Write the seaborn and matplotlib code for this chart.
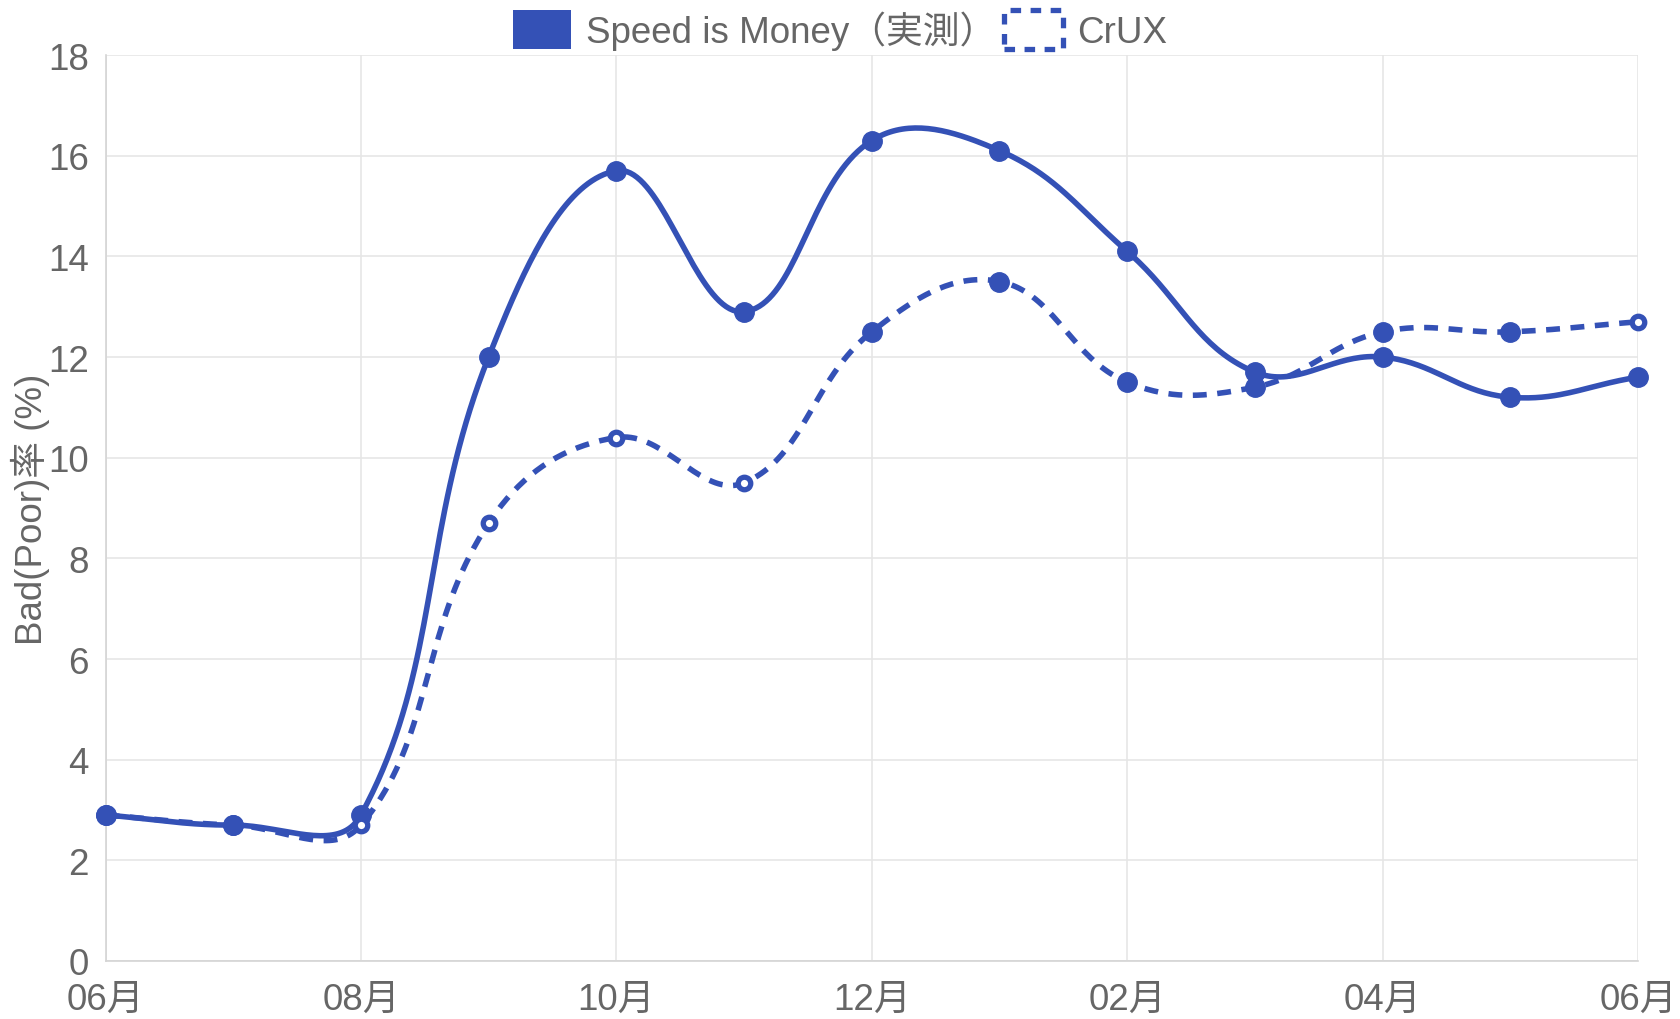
import numpy as np
import pandas as pd
import matplotlib
matplotlib.use("Agg")
import matplotlib.pyplot as plt
import matplotlib.patches as mpatches
import seaborn as sns

# data (monthly, June -> June)
months = ["06月", "07月", "08月", "09月", "10月", "11月", "12月",
          "01月", "02月", "03月", "04月", "05月", "06月"]
speed_is_money = [2.9, 2.7, 2.9, 12.0, 15.7, 12.9, 16.3, 16.1, 14.1, 11.7, 12.0, 11.2, 11.6]
crux = [2.9, 2.7, 2.7, 8.7, 10.4, 9.5, 12.5, 13.5, 11.5, 11.4, 12.5, 12.5, 12.7]
crux_hollow = [False, False, True, True, True, True, False, False, False, False, False, False, True]
yticks = [0, 2, 4, 6, 8, 10, 12, 14, 16, 18]

BLUE = "#3451b6"
GREY = "#666666"
FS = 26.5

sns.set_theme(style="white")
plt.rcParams["font.family"] = ["Liberation Sans", "Noto Sans CJK JP", "DejaVu Sans"]


def spline_curve(vals, tension=0.4, sx=127.7, sy=50.33, n=40):
    # chart.js style cubic bezier through the points (computed in pixel space)
    x = np.arange(len(vals)) * sx
    y = np.array(vals, dtype=float) * sy
    pts = np.column_stack([x, y])
    cprev = pts.copy()
    cnext = pts.copy()
    for i in range(len(pts)):
        p0 = pts[i - 1] if i > 0 else pts[i]
        p1 = pts[i]
        p2 = pts[i + 1] if i < len(pts) - 1 else pts[i]
        d01 = np.hypot(*(p1 - p0))
        d12 = np.hypot(*(p2 - p1))
        tot = d01 + d12
        s01 = d01 / tot if tot else 0
        s12 = d12 / tot if tot else 0
        cprev[i] = p1 - tension * s01 * (p2 - p0)
        cnext[i] = p1 + tension * s12 * (p2 - p0)
    out = []
    t = np.linspace(0, 1, n)[:, None]
    for i in range(len(pts) - 1):
        a, b, c, d = pts[i], cnext[i], cprev[i + 1], pts[i + 1]
        seg = (1 - t) ** 3 * a + 3 * (1 - t) ** 2 * t * b + 3 * (1 - t) * t ** 2 * c + t ** 3 * d
        out.append(seg if i == 0 else seg[1:])
    out = np.vstack(out)
    return out[:, 0] / sx, out[:, 1] / sy


fig = plt.figure(figsize=(16.8, 10.2), dpi=100)
ax = fig.add_axes([105.5 / 1680, 1 - 962 / 1020, (1638 - 105.5) / 1680, (962 - 56) / 1020])

sx_, sy_ = spline_curve(speed_is_money)
cx_, cy_ = spline_curve(crux)
curve = pd.concat([
    pd.DataFrame({"x": sx_, "y": sy_, "series": "Speed is Money（実測）"}),
    pd.DataFrame({"x": cx_, "y": cy_, "series": "CrUX"}),
])

sns.lineplot(data=curve[curve.series == "CrUX"], x="x", y="y", ax=ax, sort=False,
             estimator=None, color=BLUE, lw=4.0, legend=False, zorder=3)
ax.lines[-1].set_dashes((2.5, 1.9))
sns.lineplot(data=curve[curve.series != "CrUX"], x="x", y="y", ax=ax, sort=False,
             estimator=None, color=BLUE, lw=4.0, legend=False, zorder=3)
for ln in ax.lines:
    ln.set_dash_capstyle("butt")

idx = np.arange(len(months))
pts = pd.DataFrame({"x": idx, "sim": speed_is_money, "crux": crux, "hollow": crux_hollow})
ax.plot(pts.x, pts.sim, "o", ms=14, color=BLUE, zorder=4, clip_on=False)
filled = pts[~pts.hollow]
hollow = pts[pts.hollow]
ax.plot(filled.x, filled.crux, "o", ms=14, color=BLUE, zorder=4, clip_on=False)
ax.plot(hollow.x, hollow.crux, "o", ms=9, mfc="white", mec=BLUE, mew=3.8, zorder=5,
        clip_on=False)

ax.set_xlim(0, len(months) - 1)
ax.set_ylim(0, 18)
ax.set_yticks(yticks)
ax.set_xticks(idx[::2])
ax.set_xticklabels(months[::2])
ax.grid(True, color="#e6e6e6", lw=1.2)
for s in ["top", "right"]:
    ax.spines[s].set_visible(False)
for s in ["left", "bottom"]:
    ax.spines[s].set_color("#d4d4d4")
    ax.spines[s].set_linewidth(1.2)
ax.tick_params(axis="both", colors="#e0e0e0", length=8, width=1.2, labelsize=FS,
               labelcolor=GREY, pad=4)
ax.tick_params(axis="x", pad=7)
ax.set_xlabel("")
ax.set_ylabel("Bad(Poor)率 (%)", fontsize=FS, color=GREY)
ax.yaxis.set_label_coords(-0.036, 0.5)

h1 = mpatches.Patch(facecolor=BLUE, edgecolor=BLUE, lw=0)
h2 = mpatches.Patch(facecolor="white", edgecolor=BLUE, lw=3.8, linestyle=(0, (2.0, 1.8)))
fig.legend([h1, h2], ["Speed is Money（実測）", "CrUX"], loc="upper center",
           bbox_to_anchor=(0.5, 1.0), ncol=2, frameon=False, fontsize=FS,
           labelcolor=GREY, handlelength=1.6, handleheight=1.25,
           handletextpad=0.4, columnspacing=0.2, borderaxespad=0.1, borderpad=0.2)

fig.savefig("out.png", dpi=100, facecolor="white")
